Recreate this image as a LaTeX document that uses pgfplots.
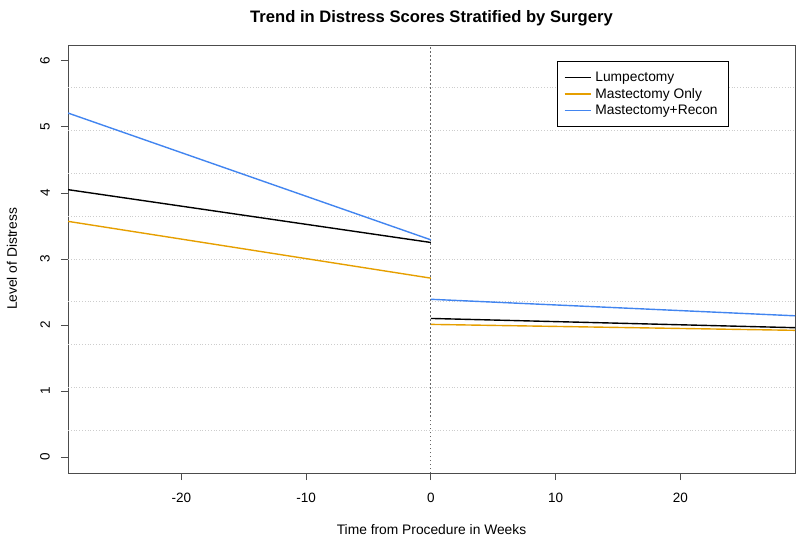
\documentclass[border=0pt]{standalone}
\usepackage{pgfplots}
\pgfplotsset{compat=1.18}
\usepackage{fontspec}
\setmainfont{Liberation Sans}
\definecolor{lumpc}{RGB}{0,0,0}
\definecolor{mastc}{RGB}{230,159,0}
\definecolor{reconc}{RGB}{66,133,240}
\definecolor{gridc}{RGB}{205,205,205}
\begin{document}
\begin{tikzpicture}
\begin{axis}[
  scale only axis, width=727pt, height=428pt,
  xmin=-29.1, xmax=29.2, ymin=-0.24, ymax=6.24,
  axis line style={draw=black!70, line width=0.9pt},
  xtick={-20,-10,0,10,20},
  ytick={0,1,2,3,4,5,6},
  tick align=outside, major tick length=7pt,
  tick style={black!70, line width=0.8pt},
  xtick pos=bottom, ytick pos=left,
  /pgf/number format/assume math mode=true,
  tick label style={font=\fontsize{13.5}{15}\selectfont},
  yticklabel style={xshift=-11pt, rotate=90, anchor=south, inner sep=0pt},
  xticklabel style={inner sep=0pt, yshift=-13pt},
  clip=true,
  legend style={at={(0.672,0.963)}, anchor=north west, draw=black, line width=0.8pt,
    font=\fontsize{13.8}{16.7}\selectfont, inner xsep=7pt, inner ysep=9pt, row sep=1pt,
    legend cell align=left, nodes={inner xsep=4pt},
    /tikz/every even column/.append style={column sep=7pt}},
  legend image code/.code={\draw[#1, line width=1.4pt] (0pt,0pt) -- (26pt,0pt);},
]
\coordinate (O) at (rel axis cs:0,0);
\addplot[gridc, dotted, line width=0.8pt, forget plot] coordinates {(-29.1,0.408) (29.2,0.408)};
\addplot[gridc, dotted, line width=0.8pt, forget plot] coordinates {(-29.1,1.056) (29.2,1.056)};
\addplot[gridc, dotted, line width=0.8pt, forget plot] coordinates {(-29.1,1.704) (29.2,1.704)};
\addplot[gridc, dotted, line width=0.8pt, forget plot] coordinates {(-29.1,2.352) (29.2,2.352)};
\addplot[gridc, dotted, line width=0.8pt, forget plot] coordinates {(-29.1,3.0) (29.2,3.0)};
\addplot[gridc, dotted, line width=0.8pt, forget plot] coordinates {(-29.1,3.648) (29.2,3.648)};
\addplot[gridc, dotted, line width=0.8pt, forget plot] coordinates {(-29.1,4.296) (29.2,4.296)};
\addplot[gridc, dotted, line width=0.8pt, forget plot] coordinates {(-29.1,4.944) (29.2,4.944)};
\addplot[gridc, dotted, line width=0.8pt, forget plot] coordinates {(-29.1,5.592) (29.2,5.592)};
\addplot[draw=black!60, line width=1.2pt, dash pattern=on 1.5pt off 2.5pt, forget plot] coordinates {(0,-0.24) (0,6.24)};
\addplot[lumpc, line width=1.4pt] coordinates {(-29.1,4.05) (0,3.25)};
\addlegendentry{Lumpectomy}
\addplot[mastc, line width=1.4pt] coordinates {(-29.1,3.57) (0,2.71)};
\addlegendentry{Mastectomy Only}
\addplot[reconc, line width=1.4pt] coordinates {(-29.1,5.21) (0,3.29)};
\addlegendentry{Mastectomy+Recon}
\addplot[lumpc, line width=1.4pt, forget plot] coordinates {(0,2.10) (29.2,1.96)};
\addplot[mastc, line width=1.4pt, forget plot] coordinates {(0,2.01) (29.2,1.92)};
\addplot[reconc, line width=1.4pt, forget plot] coordinates {(0,2.39) (29.2,2.14)};
\end{axis}
\node[font=\fontsize{16.6}{18}\selectfont\bfseries] at ([shift={(363.5pt,455pt)}]O) {Trend in Distress Scores Stratified by Surgery};
\node[font=\fontsize{13.8}{15}\selectfont] at ([shift={(363.5pt,-57pt)}]O) {Time from Procedure in Weeks};
\node[font=\fontsize{13.8}{15}\selectfont, rotate=90] at ([shift={(-56pt,214pt)}]O) {Level of Distress};
\pgfresetboundingbox
\path[use as bounding box] ([shift={(-68pt,-70pt)}]O) rectangle ([shift={(732pt,473pt)}]O);
\end{tikzpicture}
\end{document}
